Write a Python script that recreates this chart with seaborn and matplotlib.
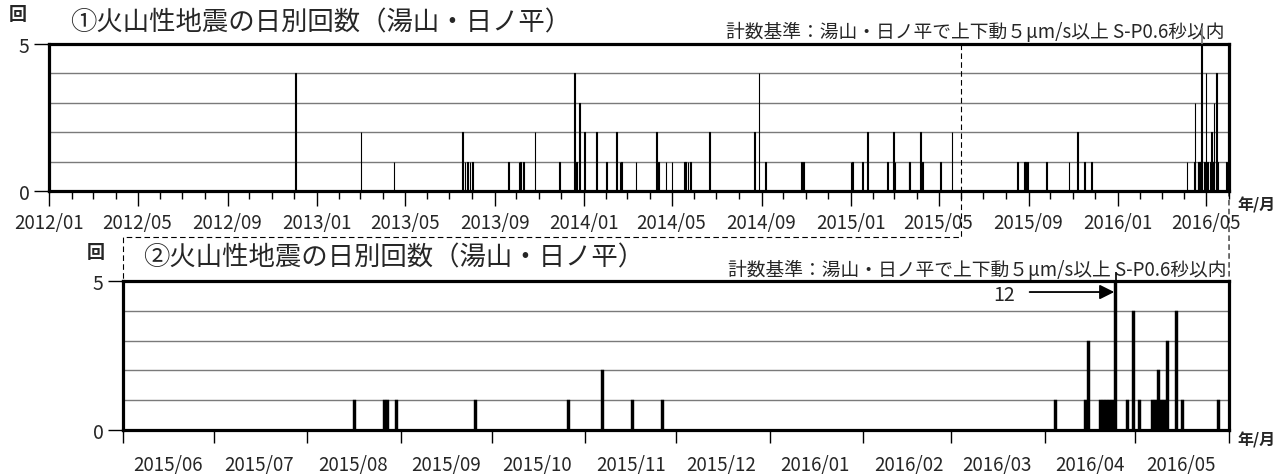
import pandas as pd
import numpy as np
import matplotlib
matplotlib.use("Agg")
import matplotlib.pyplot as plt
import matplotlib.dates as mdates
from matplotlib.lines import Line2D
from matplotlib.ticker import NullFormatter
import seaborn as sns

sns.set_style("ticks")
plt.rcParams["font.family"] = ["Noto Sans CJK JP", "DejaVu Sans"]

# days with volcanic earthquakes, 2012/01 - 2015/05 (only shown in panel 1)
early_dates = [
    "2012-12-02", "2013-03-02", "2013-04-16", "2013-07-19", "2013-07-22",
    "2013-07-26", "2013-07-29", "2013-08-01", "2013-09-20", "2013-10-04",
    "2013-10-06", "2013-10-10", "2013-10-26", "2013-11-28", "2013-12-19",
    "2013-12-22", "2013-12-26", "2014-01-02", "2014-01-18", "2014-02-01",
    "2014-02-14", "2014-02-19", "2014-02-21", "2014-03-13", "2014-04-10",
    "2014-04-13", "2014-04-23", "2014-05-01", "2014-05-18", "2014-05-20",
    "2014-05-23", "2014-05-26", "2014-06-21", "2014-08-22", "2014-08-28",
    "2014-09-06", "2014-10-25", "2014-10-28", "2015-01-01", "2015-01-03",
    "2015-01-17", "2015-01-23", "2015-02-20", "2015-02-28", "2015-03-02",
    "2015-03-21", "2015-03-22", "2015-04-06", "2015-04-09", "2015-05-03",
    "2015-05-19",
]
early_counts = [
    4, 2, 1, 2, 1,
    1, 1, 1, 1, 1,
    1, 1, 2, 1, 4,
    1, 3, 2, 2, 1,
    2, 1, 1, 1, 2,
    1, 1, 1, 1, 1,
    1, 1, 2, 2, 4,
    1, 1, 1, 1, 1,
    1, 2, 1, 2, 1,
    1, 1, 2, 1, 1,
    2,
]

# days with volcanic earthquakes, 2015/06 - 2016/05 (both panels)
recent_dates = [
    "2015-08-16", "2015-08-26", "2015-08-27", "2015-08-30", "2015-09-25",
    "2015-10-26", "2015-11-06", "2015-11-16", "2015-11-26", "2016-04-04",
    "2016-04-14", "2016-04-15", "2016-04-19", "2016-04-20", "2016-04-21",
    "2016-04-22", "2016-04-23", "2016-04-24", "2016-04-28", "2016-04-30",
    "2016-05-02", "2016-05-06", "2016-05-07", "2016-05-08", "2016-05-09",
    "2016-05-10", "2016-05-11", "2016-05-14", "2016-05-16", "2016-05-28",
]
recent_counts = [
    1, 1, 1, 1, 1,
    1, 2, 1, 1, 1,
    1, 3, 1, 1, 1,
    1, 1, 12, 1, 4,
    1, 1, 1, 2, 1,
    1, 3, 4, 1, 1,
]

title1 = "①火山性地震の日別回数（湯山・日ノ平）"
title2 = "②火山性地震の日別回数（湯山・日ノ平）"
criteria = "計数基準：湯山・日ノ平で上下動５μm/s以上 S-P0.6秒以内"

recent = pd.DataFrame({"date": pd.to_datetime(recent_dates), "count": recent_counts})
early = pd.DataFrame({"date": pd.to_datetime(early_dates), "count": early_counts})
full = pd.concat([early, recent], ignore_index=True)

full_start, full_end = pd.Timestamp("2012-01-01"), pd.Timestamp("2016-06-01")
zoom_start, zoom_end = pd.Timestamp("2015-06-01"), pd.Timestamp("2016-06-01")
ymax = 5

fig = plt.figure(figsize=(12.87, 4.77), dpi=100)
ax1 = fig.add_axes([0.0381, 0.5975, 0.9168, 0.3082])
ax2 = fig.add_axes([0.0956, 0.0964, 0.8594, 0.3124])


def draw_panel(ax, data, start, end, edge_lw, over_ext, over_color):
    sns.histplot(data=data, x="date", weights="count", binwidth=1,
                 binrange=(mdates.date2num(start), mdates.date2num(end)),
                 color="black", edgecolor="black", linewidth=edge_lw,
                 alpha=1, ax=ax, zorder=3)
    ax.set_xlim(start, end)
    ax.set_ylim(0, ymax)
    ax.set_xlabel("")
    ax.set_ylabel("")
    # counts above the axis limit poke out of the frame
    over = data[data["count"] > ymax]
    ax.vlines(over["date"] + pd.Timedelta(hours=12), ymax, ymax + over_ext,
              color=over_color, lw=1.2, clip_on=False, zorder=4)
    ax.set_yticks([0, ymax])
    ax.set_yticks([1, 2, 3, 4], minor=True)
    ax.yaxis.grid(True, which="minor", color="#7a7a7a", lw=1)
    ax.set_axisbelow(True)
    ax.tick_params(axis="y", which="major", length=11, width=1, labelsize=14,
                   pad=3, color="black", direction="out")
    ax.tick_params(axis="y", which="minor", length=0)
    for s in ax.spines.values():
        s.set_linewidth(2.3)
        s.set_color("black")


# panel 1: whole period
draw_panel(ax1, full, full_start, full_end, 0.8, 0.55, "#777777")
ax1.xaxis.set_major_locator(mdates.MonthLocator(bymonth=[1, 5, 9]))
ax1.xaxis.set_major_formatter(mdates.DateFormatter("%Y/%m"))
ax1.xaxis.set_minor_locator(mdates.MonthLocator())
ax1.tick_params(axis="x", which="major", length=11, width=1, labelsize=13.5,
                pad=4, color="black", direction="out")
ax1.tick_params(axis="x", which="minor", length=5.5, width=1, color="black",
                direction="out")

# panel 2: last year
draw_panel(ax2, recent, zoom_start, zoom_end, 0.3, 0.3, "black")
ax2.xaxis.set_major_locator(mdates.MonthLocator())
ax2.xaxis.set_major_formatter(NullFormatter())
ax2.xaxis.set_minor_locator(mdates.MonthLocator(bymonthday=16))
ax2.xaxis.set_minor_formatter(mdates.DateFormatter("%Y/%m"))
ax2.tick_params(axis="x", which="major", length=9.5, width=1, color="black",
                direction="out")
ax2.tick_params(axis="x", which="minor", length=0, labelsize=13.5, pad=17)

# arrow for the off-scale day
peak = recent.loc[recent["count"].idxmax()]
tail = peak["date"] - pd.Timedelta(days=28)
ax2.annotate("", xy=(peak["date"], 4.63), xytext=(tail, 4.63),
             arrowprops=dict(arrowstyle="-|>", color="black", lw=1.3,
                             mutation_scale=22, shrinkA=0, shrinkB=0))
ax2.text(tail - pd.Timedelta(days=5), 4.55, str(peak["count"]), ha="right",
         va="center", fontsize=14)

# titles and notes
fig.text(18 / 1287, 1 - 15 / 477, "回", ha="center", va="center",
         fontsize=13, fontweight="bold")
fig.text(70 / 1287, 1 - 23 / 477, title1, ha="left", va="center", fontsize=19)
ax1.text(0.9966, 1.085, criteria, transform=ax1.transAxes, ha="right",
         va="center", fontsize=13.5)
ax1.text(1.0068, -0.088, "年/月", transform=ax1.transAxes, ha="left",
         va="center", fontsize=11.5, fontweight="bold")

fig.text(96 / 1287, 1 - 253 / 477, "回", ha="center", va="center",
         fontsize=13, fontweight="bold")
fig.text(143 / 1287, 1 - 258 / 477, title2, ha="left", va="center", fontsize=19)
ax2.text(0.998, 1.08, criteria, transform=ax2.transAxes, ha="right",
         va="center", fontsize=13.5)
ax2.text(1.0072, -0.06, "年/月", transform=ax2.transAxes, ha="left",
         va="center", fontsize=11.5, fontweight="bold")

# dashed outline linking the enlarged period
to_fig = fig.transFigure.inverted()
x_cut, y_cut = to_fig.transform(
    ax1.transData.transform((mdates.date2num(zoom_start), ymax)))
p1 = ax1.get_position()
p2 = ax2.get_position()
y_mid = 1 - 238 / 477
fig.add_artist(Line2D([x_cut, x_cut, p2.x0, p2.x0], [y_cut, y_mid, y_mid, p2.y1],
                      ls=(0, (5, 3)), lw=0.8, color="black"))
fig.add_artist(Line2D([p1.x1, p2.x1], [p1.y0, p2.y1],
                      ls=(0, (5, 3)), lw=0.8, color="black"))

fig.savefig("out.png", dpi=100)
